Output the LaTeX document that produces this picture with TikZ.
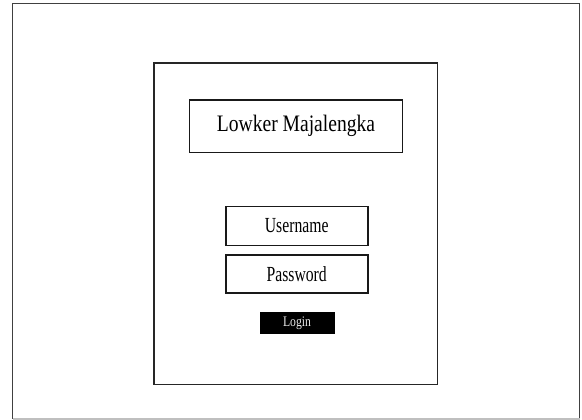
\documentclass[tikz,border=0pt]{standalone}
\usepackage{fontspec}
\setmainfont{Liberation Serif}
\newfontfamily\titlefont{Liberation Serif}[FakeStretch=0.83]
\newfontfamily\fieldfont{Liberation Serif}[FakeStretch=0.73]
\newfontfamily\btnfont{Liberation Serif}[FakeStretch=0.8]
\begin{document}
\begin{tikzpicture}[x=1pt,y=-1pt,
  fieldbox/.style={draw=black!90, line width=1.8pt, rectangle, inner sep=0pt, minimum width=142pt, minimum height=39pt, font=\fieldfont\fontsize{21.5}{24}\selectfont},
  btn/.style={fill=black, draw=black, rectangle, inner sep=0pt, minimum width=74pt, minimum height=21pt, text=white!92!black, font=\btnfont\fontsize{14.6}{17}\selectfont}]
\useasboundingbox (0,0) rectangle (582,420);
% outer window
\coordinate (o1) at (12.5,419);
\coordinate (o2) at (12.5,3.5);
\coordinate (o3) at (579.5,3.5);
\coordinate (o4) at (579.5,419);
\draw[draw=black!75, line width=1.6pt] (o1) -- (o2) -- (o3) -- (o4);
\draw[draw=black!25, line width=1.2pt] (o1) -- (o4);
% inner frame
\node[draw=black!85, line width=1.7pt, rectangle, inner sep=0pt, minimum width=283.5pt, minimum height=321.5pt] (panel) at (295.75,223.75) {};
% title
\node[draw=black!90, line width=1.8pt, rectangle, inner sep=0pt, minimum width=213pt, minimum height=52.5pt, font=\titlefont\fontsize{23.6}{27}\selectfont] (title) at (296,126.25) {Lowker Majalengka};
% fields
\node[fieldbox] (user) at (296.7,225.9) {Username};
\node[fieldbox, minimum height=38.3pt] (pass) at (296.7,274.2) {Password};
% button
\node[btn] (login) at (297,322.8) {Login};
\end{tikzpicture}
\end{document}
